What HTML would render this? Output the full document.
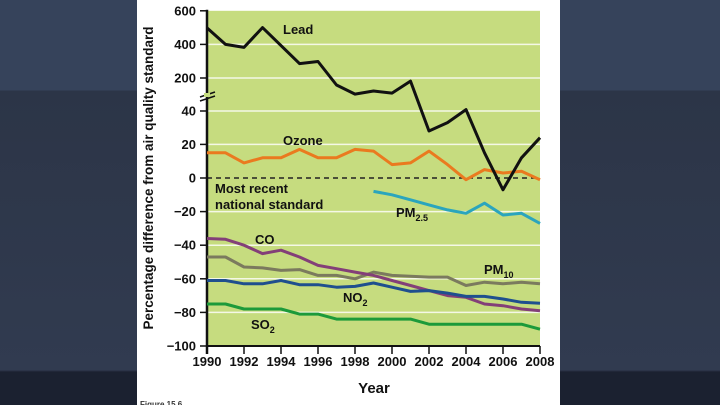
<!DOCTYPE html>
<html><head><meta charset="utf-8"><style>
html,body{margin:0;padding:0;width:720px;height:405px;overflow:hidden;background:#2f394c;}
#bg{position:absolute;left:0;top:0;width:720px;height:405px;
background:linear-gradient(180deg,#36435b 0,#36435b 90px,#2c3547 91px,#313b50 370px,#1b2130 372px,#1b2130 405px);}
#panel{position:absolute;left:137px;top:0;width:423px;height:405px;background:#fff;}
svg{position:absolute;left:0;top:0;}
text{font-family:"Liberation Sans",sans-serif;font-weight:bold;}
</style></head><body>
<div id="bg"></div>
<div id="panel"></div>
<svg id="chart" width="720" height="405"></svg>
<script>
const years=[1990,1991,1992,1993,1994,1995,1996,1997,1998,1999,2000,2001,2002,2003,2004,2005,2006,2007,2008];
const leadVals=[498,400,382,500,393,286,298,166,122,137,127,185,28,33,47,15,-7,12,24];
const ozoneVals=[15,15,9,12,12,17,12,12,17,16,8,9,16,8,-1,5,3,4,-1];
const pm25Years=[1999,2000,2001,2002,2003,2004,2005,2006,2007,2008];
const pm25Vals=[-8,-10,-13,-16,-19,-21,-15,-22,-21,-27];
const coVals=[-36,-36.5,-40,-45,-43,-47,-52,-54,-56,-58,-61,-64,-67,-70,-71,-75,-76,-78,-79];
const pm10Vals=[-47,-47,-53,-53.5,-55,-54.5,-58,-58,-60,-56,-58,-58.5,-59,-59,-64,-62,-63,-62,-63];
const no2Vals=[-61,-61,-63,-63,-61,-63.5,-63.5,-65,-64.5,-62.5,-65,-67.5,-67,-68.5,-70.5,-70.5,-72,-74,-74.5];
const so2Vals=[-75,-75,-78,-78,-78,-81,-81,-84,-84,-84,-84,-84,-87,-87,-87,-87,-87,-87,-90];
const yTicks=[600,400,200,40,20,0,-20,-40,-60,-80,-100];
const xTicks=[1990,1992,1994,1996,1998,2000,2002,2004,2006,2008];

const NS='http://www.w3.org/2000/svg';
const svg=document.getElementById('chart');
const X0=207,X1=540;
function xs(y){return X0+(y-1990)/(2008-1990)*(X1-X0);}
function ys(v){
  if(v>=200) return 78-(v-200)/200*33.6;
  if(v>=40) return 111-(v-40)/160*33;
  return 178-v*1.68;
}
function mk(tag,attrs){const e=document.createElementNS(NS,tag);for(const k in attrs)e.setAttribute(k,attrs[k]);svg.appendChild(e);return e;}

const plot=mk('rect',{x:X0,y:ys(600),width:X1-X0,height:ys(-100)-ys(600),fill:'#c6dc7f'});



yTicks.forEach(t=>{
  const y=ys(t);
  if(t!==0&&t!==-100&&t!==600){
    const g=mk('line',{x1:X0,x2:X1,y1:y,y2:y,stroke:'#f4f8e6','stroke-width':1.5});
    
    
  }
  const tk=mk('line',{x1:X0-7,x2:X0,y1:y,y2:y,stroke:'#111','stroke-width':1.5});
  
  
  const lb=mk('text',{x:X0-11,y:y+4.5,'text-anchor':'end','font-size':13,fill:'#111'});
  lb.textContent=t<0?'\u2212'+(-t):String(t);
  
  
});
const zl=mk('line',{x1:X0,x2:X1,y1:ys(0),y2:ys(0),stroke:'#222','stroke-width':1.5,'stroke-dasharray':'5,4'});



const ax=mk('line',{x1:X0,x2:X0,y1:ys(600)-1,y2:ys(-100)+8,stroke:'#111','stroke-width':2.5});


const xa=mk('line',{x1:X0,x2:X1,y1:ys(-100),y2:ys(-100),stroke:'#111','stroke-width':2});


// axis break marks
const br=mk('path',{d:'M200,97 L215,92 M200,101 L215,96',stroke:'#111','stroke-width':1.5,fill:'none'});


const brw=mk('rect',{x:204,y:93,width:6,height:4,fill:'#c6dc7f'});



xTicks.forEach(t=>{
  const x=xs(t);
  const tk=mk('line',{x1:x,x2:x,y1:ys(-100),y2:ys(-100)+8,stroke:'#111','stroke-width':1.5});
  
  
  const lb=mk('text',{x:x,y:ys(-100)+20,'text-anchor':'middle','font-size':13,fill:'#111'});
  lb.textContent=String(t);
  
  
});

function series(xv,vals,color,name,w){
  const d=vals.map((v,i)=>(i?'L':'M')+xs(xv[i]).toFixed(1)+','+ys(v).toFixed(1)).join(' ');
  const p=mk('path',{d:d,stroke:color,'stroke-width':w||3,fill:'none','stroke-linejoin':'round'});
  
  
}
series(years,so2Vals,'#1c9a3a','so2-line');
series(years,pm10Vals,'#7b7a5e','pm10-line');
series(years,coVals,'#833f78','co-line');
series(years,no2Vals,'#1f4f8e','no2-line');
series(pm25Years,pm25Vals,'#2ba5bd','pm25-line');
series(years,ozoneVals,'#ea7a1f','ozone-line');
series(years,leadVals,'#111','lead-line');

function label(x,y,txt,sub,name,size){
  const t=mk('text',{x:x,y:y,'font-size':size||13,fill:'#111'});
  t.textContent=txt;
  if(sub){const s=document.createElementNS(NS,'tspan');s.setAttribute('font-size',9);s.setAttribute('dy',4);s.textContent=sub;t.appendChild(s);}
  
  
}
label(283,34,'Lead','', 'lead-label');
label(283,145,'Ozone','', 'ozone-label');
label(215,193,'Most recent','', 'standard-label-1');
label(215,209,'national standard','', 'standard-label-2');
label(396,217,'PM','2.5','pm25-label');
label(255,244,'CO','','co-label');
label(484,274,'PM','10','pm10-label');
label(343,302,'NO','2','no2-label');
label(251,329,'SO','2','so2-label');

const yt=mk('text',{x:0,y:0,'font-size':13.5,fill:'#111','text-anchor':'middle',transform:'translate(153,178) rotate(-90)'});
yt.textContent='Percentage difference from air quality standard';


const xt=mk('text',{x:374,y:393,'font-size':15,fill:'#111','text-anchor':'middle'});
xt.textContent='Year';


const fc=mk('text',{x:140,y:407,'font-size':8,fill:'#333','font-weight':'normal'});
fc.textContent='Figure 15.6';


</script>
</body></html>
